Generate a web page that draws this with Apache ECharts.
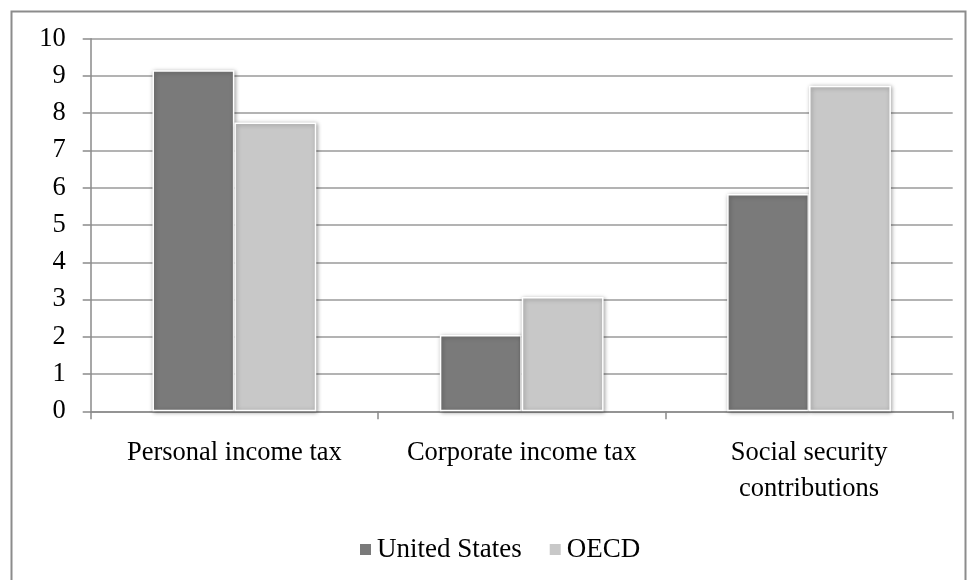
<!DOCTYPE html>
<html>
<head>
<meta charset="utf-8">
<script src="https://cdn.jsdelivr.net/npm/echarts@6/dist/echarts.min.js"></script>
<style>
  html, body { margin: 0; padding: 0; background: #fff; }
  #chart { width: 969px; height: 580px; }
</style>
</head>
<body>
<div id="chart"></div>
<script>
// Tax revenue by type, per cent of GDP
var categories = ['Personal income tax', 'Corporate income tax', 'Social security\ncontributions'];
var seriesNames = ['United States', 'OECD'];
var unitedStates = [9.15, 2.05, 5.83];
var oecd = [7.75, 3.07, 8.74];
var yTicks = [0, 1, 2, 3, 4, 5, 6, 7, 8, 9, 10];

var serif = '"Liberation Serif", "Times New Roman", serif';

var barStyle = function (color) {
  return {
    color: color,
    borderColor: '#ffffff',
    borderWidth: 1.5,
    shadowColor: 'rgba(0,0,0,0.35)',
    shadowBlur: 4,
    shadowOffsetX: 1,
    shadowOffsetY: 1
  };
};

var chart = echarts.init(document.getElementById('chart'), null, { renderer: 'canvas' });
chart.setOption({
  animation: false,
  backgroundColor: '#ffffff',
  graphic: [{
    type: 'rect',
    left: 9, top: 9,
    shape: { x: 0, y: 0, width: 954, height: 620 },
    style: { fill: 'none', stroke: '#8c8c8c', lineWidth: 2 },
    silent: true,
    z: -1
  }],
  grid: { left: 90.7, right: 16.3, top: 38.7, bottom: 168.7, containLabel: false },
  legend: {
    data: seriesNames,
    bottom: 12,
    left: 353,
    itemWidth: 13,
    itemHeight: 13,
    itemGap: 26,
    icon: 'rect',
    textStyle: { fontFamily: serif, fontSize: 27, color: '#000' }
  },
  xAxis: {
    type: 'category',
    data: categories,
    axisLine: { lineStyle: { color: '#8a8a8a', width: 1.5 } },
    axisTick: { show: true, length: 8, inside: false, alignWithLabel: false, lineStyle: { color: '#8a8a8a', width: 1.5 } },
    axisLabel: { margin: 24, fontFamily: serif, fontSize: 26.5, color: '#000', lineHeight: 36, interval: 0 },
    splitLine: { show: false }
  },
  yAxis: {
    type: 'value',
    min: yTicks[0],
    max: yTicks[yTicks.length - 1],
    interval: 1,
    axisLine: { show: true, lineStyle: { color: '#8a8a8a', width: 1.5 } },
    axisTick: { show: true, length: 8, lineStyle: { color: '#8a8a8a', width: 1.5 } },
    axisLabel: { margin: 25, fontFamily: serif, fontSize: 26.5, color: '#000' },
    splitLine: { lineStyle: { color: '#9a9a9a', width: 1.5 } }
  },
  series: [{
    name: seriesNames[0],
    type: 'bar',
    data: unitedStates,
    barGap: '0%',
    barCategoryGap: '43%',
    itemStyle: barStyle('#7a7a7a')
  }, {
    name: seriesNames[1],
    type: 'bar',
    data: oecd,
    barGap: '0%',
    barCategoryGap: '43%',
    itemStyle: barStyle('#c8c8c8')
  }]
});
</script>
</body>
</html>
